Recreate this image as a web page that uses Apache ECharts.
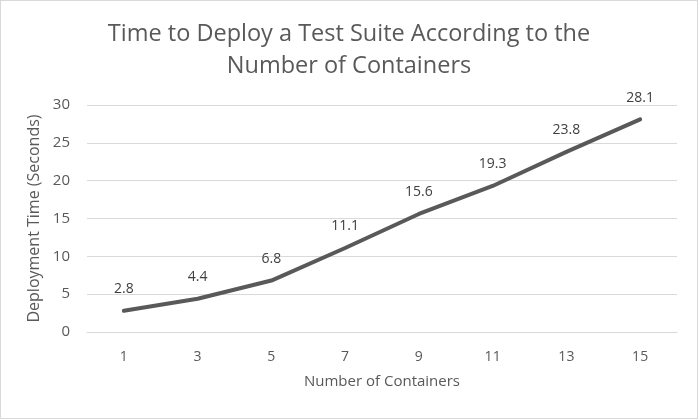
<!DOCTYPE html>
<html><head><meta charset="utf-8">
<script src="https://cdn.jsdelivr.net/npm/echarts@6/dist/echarts.min.js"></script>
<style>html,body{margin:0;padding:0;background:#fff}#c{width:698px;height:419px;box-sizing:border-box;border:1px solid #d9d9d9}</style>
</head><body><div id="c"></div>
<script>
const categories = ['1','3','5','7','9','11','13','15'];
const deployTimes = [2.8, 4.4, 6.8, 11.1, 15.6, 19.3, 23.8, 28.1];
const titleText = 'Time to Deploy a Test Suite According to the\nNumber of Containers';
const xName = 'Number of Containers';
const yName = 'Deployment Time (Seconds)';
const font = 'Open Sans';
const chart = echarts.init(document.getElementById('c'), null, {renderer:'canvas'});
chart.setOption({
  animation:false,
  title:{text:titleText,left:'center',top:12,textStyle:{fontFamily:font,fontSize:23.5,fontWeight:'normal',color:'#595959',lineHeight:32}},
  grid:{left:86,right:20,top:104,bottom:86},
  xAxis:{type:'category',data:categories,boundaryGap:true,name:xName,nameLocation:'middle',nameGap:42,
    nameTextStyle:{fontFamily:font,fontSize:15,color:'#595959'},
    axisLine:{show:true,lineStyle:{color:'#d9d9d9'}},axisTick:{show:false},
    axisLabel:{fontFamily:font,fontSize:14,color:'#595959',margin:18}},
  yAxis:{type:'value',min:0,max:30,interval:5,name:yName,nameLocation:'middle',nameGap:42,
    nameTextStyle:{fontFamily:font,fontSize:16,color:'#595959'},
    axisLine:{show:false},axisTick:{show:false},
    splitLine:{lineStyle:{color:'#d9d9d9'}},
    axisLabel:{fontFamily:font,fontSize:15,color:'#595959',margin:17}},
  series:[{type:'line',data:deployTimes,symbol:'circle',symbolSize:3,showSymbol:true,
    itemStyle:{color:'#595959'},
    lineStyle:{color:'#595959',width:4,cap:'round'},
    label:{show:true,position:'top',distance:13,fontFamily:font,fontSize:14,color:'#404040'}}]
});
</script></body></html>
